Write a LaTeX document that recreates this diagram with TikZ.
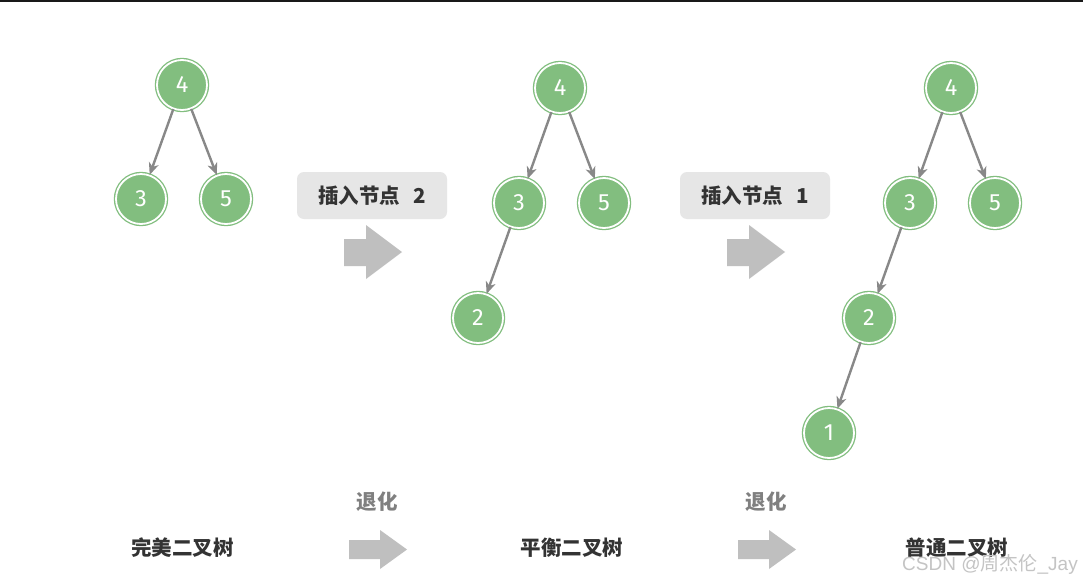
\documentclass[tikz,border=0pt]{standalone}
\usepackage{fontspec}
\setmainfont{Fira Sans}
\newfontfamily\cjk{Noto Sans CJK SC}
\newfontfamily\wm{Liberation Sans}
\usetikzlibrary{arrows.meta}
\definecolor{nodegreen}{HTML}{82BE7F}
\definecolor{edgegray}{HTML}{888888}
\definecolor{blockgray}{HTML}{BFBFBF}
\definecolor{boxgray}{HTML}{E6E6E6}
\definecolor{txtdark}{HTML}{333333}
\definecolor{txtgray}{HTML}{808080}
\definecolor{wmgray}{HTML}{C4C4C4}
\tikzset{
  treenode/.style={circle, fill=nodegreen, draw=nodegreen, double=white,
    double distance=1.8pt, line width=1.3pt, minimum size=50pt, inner sep=0pt,
    text=white, font=\fontsize{23.5}{23.5}\selectfont},
  edge/.style={draw=edgegray, line width=2.4pt,
    -{Stealth[length=12pt,width=10pt,inset=3.5pt]}},
  stepbox/.style={rounded corners=7pt, fill=boxgray, minimum width=150pt,
    minimum height=47pt, inner sep=0pt, text=txtdark,
    font=\cjk\bfseries\fontsize{20.5}{20}\selectfont},
  caption/.style={text=txtdark, font=\cjk\bfseries\fontsize{20.5}{20}\selectfont, inner sep=0pt},
  degrade/.style={text=txtgray, font=\cjk\bfseries\fontsize{20.5}{20}\selectfont, inner sep=0pt},
  blockarrow/.style={fill=blockgray, draw=none},
}
\begin{document}
\begin{tikzpicture}[x=1pt,y=-1pt]
\useasboundingbox (0,0) rectangle (1083,581);
\fill[white] (0,0) rectangle (1083,581);
\fill[black!90] (0,0) rectangle (1083,1.6);

% tree 1
\node[treenode] (a4) at (182,85) {4};
\node[treenode] (a3) at (141,199) {3};
\node[treenode] (a5) at (226,199) {5};
\draw[edge] (a4) -- (a3);
\draw[edge] (a4) -- (a5);

% tree 2
\node[treenode] (b4) at (560,88) {4};
\node[treenode] (b3) at (519,203) {3};
\node[treenode] (b5) at (604,203) {5};
\node[treenode] (b2) at (478,318) {2};
\draw[edge] (b4) -- (b3);
\draw[edge] (b4) -- (b5);
\draw[edge] (b3) -- (b2);

% tree 3
\node[treenode] (c4) at (951,88) {4};
\node[treenode] (c3) at (910,203) {3};
\node[treenode] (c5) at (995,203) {5};
\node[treenode] (c2) at (869,318) {2};
\node[treenode] (c1) at (829,433) {1};
\draw[edge] (c4) -- (c3);
\draw[edge] (c4) -- (c5);
\draw[edge] (c3) -- (c2);
\draw[edge] (c2) -- (c1);

% step boxes
\node[stepbox] (s1) at (372,195.5) {插入节点\hspace{13pt}2};
\node[stepbox] (s2) at (755,195.5) {插入节点\hspace{13pt}1};

% block arrows (top)
\fill[blockarrow] (344,239) -- (366,239) -- (366,225) -- (402,252) -- (366,279) -- (366,266) -- (344,266) -- cycle;
\fill[blockarrow] (727,239) -- (749,239) -- (749,225) -- (785,252) -- (749,279) -- (749,266) -- (727,266) -- cycle;

% block arrows (bottom)
\fill[blockarrow] (349,540) -- (380,540) -- (380,530) -- (407,549.5) -- (380,569) -- (380,559) -- (349,559) -- cycle;
\fill[blockarrow] (738,540) -- (769,540) -- (769,530) -- (796,549.5) -- (769,569) -- (769,559) -- (738,559) -- cycle;

\node[degrade] (d1) at (377,502) {退化};
\node[degrade] (d2) at (766,502) {退化};

% captions
\node[caption] (t1) at (182.5,548) {完美二叉树};
\node[caption] (t2) at (572,548) {平衡二叉树};
\node[caption] (t3) at (957,548) {普通二叉树};

% watermark
\node[text=wmgray, inner sep=0pt, font=\wm\fontsize{19}{19}\selectfont] (wm) at (990,564) {CSDN @{\cjk 周杰伦}\_Jay};
\end{tikzpicture}
\end{document}
